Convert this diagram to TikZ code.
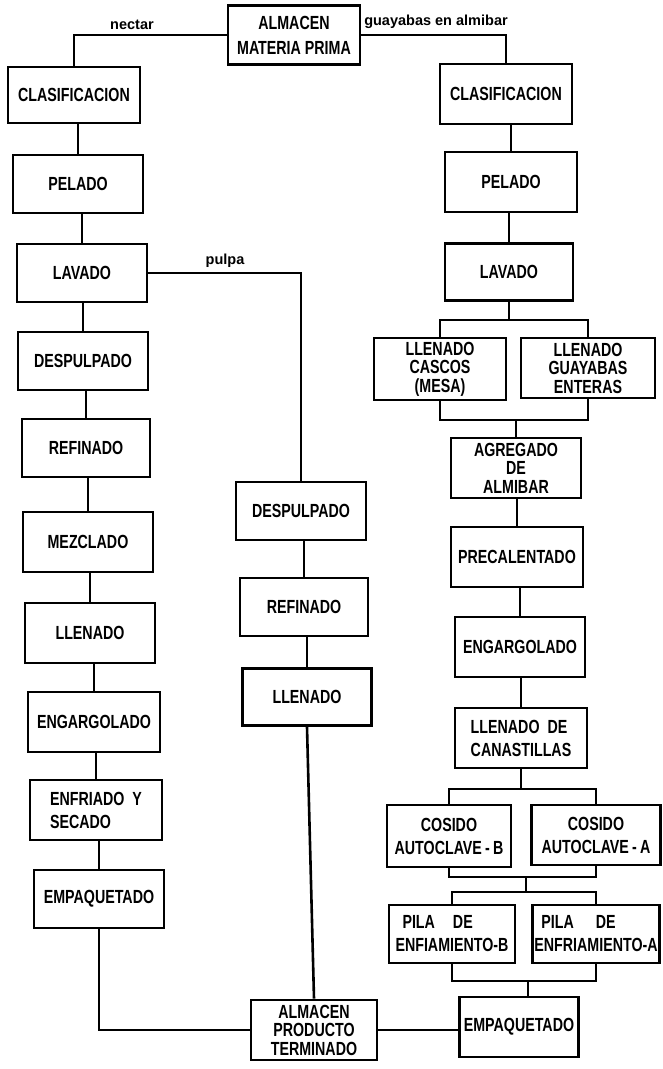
\documentclass[tikz,border=0pt]{standalone}
\usepackage{fontspec}
\setmainfont{Liberation Sans}[FakeStretch=0.75]
\newfontfamily\lblfont{Liberation Sans}
\begin{document}
\begin{tikzpicture}[x=1pt,y=-1pt,
  box/.style={draw, line width=2.6pt, inner sep=1pt, align=center,
    font=\bfseries\fontsize{19}{23}\selectfont,
    minimum width=130pt, minimum height=58pt},
  tri/.style={font=\bfseries\fontsize{19}{18.5}\selectfont},
  lbl/.style={font=\lblfont\bfseries\fontsize{14.5}{16}\selectfont, inner sep=0pt},
  ln/.style={line width=2.6pt}]
\fill[white] (0,0) rectangle (663,1069);
\useasboundingbox (0,0) rectangle (663,1069);

% top
\node[box, minimum width=132pt, minimum height=59pt, font=\bfseries\fontsize{19}{25}\selectfont] (t1) at (294,35) {ALMACEN\\MATERIA PRIMA};

% left column
\node[box, minimum width=132pt, minimum height=56pt] (L1) at (74,95) {CLASIFICACION};
\node[box] (L2) at (78,184) {PELADO};
\node[box] (L3) at (82,273) {LAVADO};
\node[box] (L4) at (83,361) {DESPULPADO};
\node[box, minimum width=128pt] (L5) at (86,448) {REFINADO};
\node[box, minimum height=60pt] (L6) at (88,542) {MEZCLADO};
\node[box, minimum height=60pt] (L7) at (90,633) {LLENADO};
\node[box, minimum width=132pt, minimum height=60pt] (L8) at (94,722) {ENGARGOLADO};
\node[box, minimum width=132pt, minimum height=60pt, align=left] (L9) at (96,810) {ENFRIADO\ \ Y\\SECADO};
\node[box] (L10) at (99,899) {EMPAQUETADO};

% middle column
\node[box] (M1) at (301,511) {DESPULPADO};
\node[box, minimum width=128pt] (M2) at (304,607) {REFINADO};
\node[box, minimum width=129pt, minimum height=57pt] (M3) at (307,697) {LLENADO};
\node[box, tri, minimum width=126pt, minimum height=60pt] (T2) at (314,1030) {ALMACEN\\PRODUCTO\\TERMINADO};

% right column
\node[box, minimum width=132pt, minimum height=60pt] (R1) at (506,94) {CLASIFICACION};
\node[box, minimum width=132pt, minimum height=60pt] (R2) at (511,182) {PELADO};
\node[box, minimum width=128pt, minimum height=57pt] (R3) at (509,272) {LAVADO};
\node[box, tri, minimum width=132pt, minimum height=62pt] (R4a) at (440,369) {LLENADO\\CASCOS\\(MESA)};
\node[box, tri, minimum width=134pt, minimum height=60pt] (R4b) at (588,368) {LLENADO\\GUAYABAS\\ENTERAS};
\node[box, tri, minimum height=60pt] (R5) at (516,468) {AGREGADO\\DE\\ALMIBAR};
\node[box, minimum width=132pt, minimum height=60pt] (R6) at (517,557) {PRECALENTADO};
\node[box, minimum height=60pt] (R7) at (520,647) {ENGARGOLADO};
\node[box, minimum width=132pt, minimum height=60pt, align=left] (R8) at (521,738) {LLENADO\ \ DE\\CANASTILLAS};
\node[box, minimum width=124pt, minimum height=62pt] (R9a) at (449,836) {COSIDO\\AUTOCLAVE\,-\,B};
\node[box, minimum width=129pt, minimum height=60pt] (R9b) at (596,835) {COSIDO\\AUTOCLAVE\,-\,A};
\node[box, minimum width=126pt, minimum height=58pt, align=left] (R10a) at (452,934) {\hspace{7pt}PILA\hspace{18pt}DE\\ENFIAMIENTO-B};
\node[box, minimum width=127pt, minimum height=58pt, align=left] (R10b) at (596,934) {\hspace{7pt}PILA\hspace{22pt}DE\\ENFRIAMIENTO-A};
\node[box, minimum width=119pt, minimum height=60pt] (R11) at (519,1027) {EMPAQUETADO};

% labels
\node[lbl] (nl) at (132,25) {nectar};
\node[lbl] (gl) at (436,22) {guayabas en almibar};
\node[lbl] (pl) at (225,261) {pulpa};

% connectors
\draw[ln] (t1.west) -| (L1.north);
\draw[ln] (t1.east) -| (R1.north);
\foreach \a/\b in {L1/L2,L2/L3,L3/L4,L4/L5,L5/L6,L6/L7,L7/L8,L8/L9,L9/L10,M1/M2,M2/M3,R1/R2,R2/R3,R5/R6,R6/R7,R7/R8}
  \draw[ln] (\b.north |- \a.south) -- (\b.north);
\draw[ln] (L3.east) -| (M1.north);
\draw[ln] (M3.south) -- (T2.north);
\draw[ln] (L10.south) |- (T2.west);
\draw[ln] (T2.east) -- (T2.east -| R11.west);

\coordinate (h1) at (0,320);
\coordinate (s1) at (R3.south |- h1);
\draw[ln] (R3.south) -- (s1);
\draw[ln] (R4a.north) |- (s1) -| (R4b.north);
\coordinate (h2) at (0,420);
\coordinate (j1) at (R5.north |- h2);
\draw[ln] (R4a.south) |- (j1) -| (R4b.south);
\draw[ln] (j1) -- (R5.north);

\coordinate (h3) at (0,789);
\coordinate (s2) at (R8.south |- h3);
\draw[ln] (R8.south) -- (s2);
\draw[ln] (R9a.north) |- (s2) -| (R9b.north);
\coordinate (j2) at (526,877);
\coordinate (s3) at (526,892);
\draw[ln] (R9a.south) |- (j2) -| (R9b.south);
\draw[ln] (j2) -- (s3);
\draw[ln] (R10a.north) |- (s3) -| (R10b.north);
\coordinate (j3) at (528,981);
\draw[ln] (R10a.south) |- (j3) -| (R10b.south);
\draw[ln] (j3) -- (j3 |- R11.north);
\end{tikzpicture}
\end{document}
